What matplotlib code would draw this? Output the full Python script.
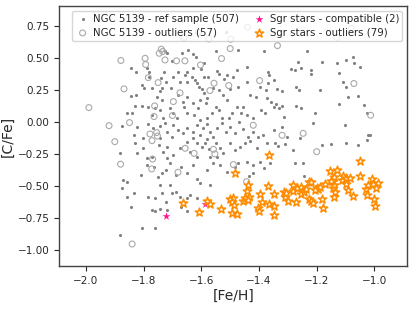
import matplotlib
matplotlib.use('Agg')
import matplotlib.pyplot as plt
import seaborn as sns
import numpy as np

# NGC 5139 reference sample
ref_feh = [
    -1.516, -1.725, -1.72, -1.667, -1.645, -1.628, -1.548, -1.472, -1.382, -1.233,
    -1.18, -1.131, -1.097, -1.075, -1.072, -1.264, -1.703, -1.618, -1.591,
    -1.845, -1.827, -1.79, -1.783, -1.728, -1.651, -1.601, -1.547, -1.538, -1.478,
    -1.443, -1.37, -1.366, -1.29, -1.276, -1.253, -1.221, -1.221, -1.123, -1.05,
    -1.697, -1.657, -1.634, -1.622, -1.591, -1.576, -1.522, -1.512, -1.489, -1.628,
    -1.68, -1.349, -1.783, -1.741,
    -1.844, -1.827, -1.807, -1.8, -1.772, -1.744, -1.737, -1.724, -1.705, -1.674,
    -1.648, -1.616, -1.608, -1.599, -1.591, -1.558, -1.54, -1.524, -1.501, -1.472,
    -1.443, -1.397, -1.376, -1.374, -1.37, -1.339, -1.321, -1.273, -1.262, -1.189,
    -1.11, -1.097, -1.058, -1.091, -1.651, -1.68, -1.582, -1.432, -1.409, -1.755,
    -1.857, -1.841, -1.829, -1.806, -1.784, -1.762, -1.744, -1.736, -1.709, -1.697,
    -1.665, -1.66, -1.651, -1.628, -1.61, -1.603, -1.585, -1.564, -1.549, -1.538,
    -1.512, -1.493, -1.476, -1.455, -1.441, -1.422, -1.394, -1.378, -1.359, -1.349,
    -1.332, -1.321, -1.341, -1.273, -1.253, -1.205, -1.121, -1.035, -1.027, -1.772,
    -1.732, -1.686, -1.626, -1.605, -1.579, -1.53, -1.503, -1.461, -1.315,
    -1.876, -1.832, -1.824, -1.784, -1.766, -1.744, -1.726, -1.72, -1.697, -1.68,
    -1.663, -1.648, -1.63, -1.614, -1.605, -1.593, -1.582, -1.57, -1.558, -1.547,
    -1.53, -1.515, -1.499, -1.483, -1.469, -1.455, -1.437, -1.42, -1.403, -1.385,
    -1.349, -1.321, -1.302, -1.212, -1.103, -1.022, -1.027, -1.628, -1.582, -1.703,
    -1.744, -1.801,
    -1.882, -1.83, -1.824, -1.801, -1.772, -1.746, -1.732, -1.718, -1.697, -1.674,
    -1.651, -1.64, -1.614, -1.599, -1.588, -1.573, -1.549, -1.534, -1.524, -1.501,
    -1.483, -1.466, -1.449, -1.432, -1.406, -1.374, -1.345, -1.334, -1.311, -1.282,
    -1.258, -1.18, -1.152, -1.097, -1.056, -1.547, -1.57, -1.616, -1.72, -1.79,
    -1.873, -1.856, -1.81, -1.79, -1.764, -1.749, -1.737, -1.723, -1.709, -1.689,
    -1.669, -1.651, -1.63, -1.616, -1.582, -1.558, -1.534, -1.512, -1.483, -1.472,
    -1.443, -1.42, -1.397, -1.383, -1.362, -1.276, -1.247, -1.245, -1.434, -1.42,
    -1.876, -1.859, -1.833, -1.845, -1.784, -1.762, -1.744, -1.735, -1.723, -1.709,
    -1.702, -1.689, -1.674, -1.651, -1.64, -1.616, -1.605, -1.57, -1.772, -1.76,
    -1.744, -1.72, -1.67, -1.651, -1.807, -1.76, -1.882, -1.016,
]
ref_cfe = [
    0.706, 0.557, 0.536, 0.542, 0.562, 0.531, 0.55, 0.562, 0.557, 0.55,
    0.471, 0.464, 0.484, 0.51, 0.464, 0.471, 0.477, 0.51, 0.458,
    0.419, 0.393, 0.419, 0.393, 0.393, 0.393, 0.411, 0.401, 0.375, 0.406,
    0.432, 0.393, 0.367, 0.414, 0.406, 0.419, 0.406, 0.375, 0.38, 0.432,
    0.349, 0.367, 0.349, 0.328, 0.349, 0.354, 0.333, 0.365, 0.349, 0.419,
    0.393, 0.328, 0.354, 0.341,
    0.206, 0.211, 0.289, 0.263, 0.263, 0.245, 0.263, 0.315, 0.268, 0.315,
    0.315, 0.302, 0.271, 0.258, 0.224, 0.268, 0.25, 0.211, 0.258, 0.276,
    0.315, 0.276, 0.25, 0.185, 0.307, 0.255, 0.245, 0.276, 0.25, 0.25,
    0.315, 0.276, 0.201, 0.198, 0.198, 0.211, 0.185, 0.211, 0.198, 0.198,
    0.073, 0.073, 0.125, 0.125, 0.12, 0.107, 0.094, 0.172, 0.107, 0.068,
    0.159, 0.12, 0.068, 0.146, 0.107, 0.172, 0.146, 0.068, 0.12, 0.094,
    0.172, 0.068, 0.12, 0.12, 0.055, 0.029, 0.094, 0.068, 0.159, 0.12,
    0.107, 0.125, 0.141, 0.125, 0.107, 0.068, 0.138, 0.133, 0.068, 0.055,
    0.029, 0.029, 0.055, 0.016, 0.029, 0.029, 0.029, 0.068, 0.042,
    -0.031, -0.102, -0.036, -0.016, -0.049, -0.031, -0.01, -0.076, -0.023, -0.063,
    -0.089, -0.044, -0.076, -0.023, -0.102, -0.049, -0.016, -0.076, -0.115, -0.044,
    -0.01, -0.076, -0.036, -0.083, 0.003, -0.057, -0.115, -0.076, -0.12, -0.102,
    -0.063, -0.036, -0.115, -0.01, -0.023, -0.102, -0.141, -0.128, -0.135, -0.115,
    -0.128, -0.128,
    -0.245, -0.167, -0.24, -0.206, -0.271, -0.18, -0.232, -0.193, -0.258, -0.206,
    -0.154, -0.232, -0.167, -0.193, -0.161, -0.214, -0.167, -0.201, -0.24, -0.167,
    -0.219, -0.193, -0.167, -0.146, -0.206, -0.167, -0.161, -0.188, -0.172, -0.219,
    -0.128, -0.18, -0.174, -0.167, -0.18, -0.271, -0.271, -0.271, -0.284, -0.284,
    -0.453, -0.466, -0.414, -0.336, -0.349, -0.427, -0.401, -0.375, -0.323, -0.414,
    -0.349, -0.401, -0.336, -0.448, -0.375, -0.323, -0.336, -0.388, -0.349, -0.318,
    -0.31, -0.336, -0.31, -0.362, -0.323, -0.323, -0.323, -0.419, -0.422, -0.401,
    -0.518, -0.583, -0.557, -0.661, -0.583, -0.596, -0.492, -0.557, -0.622, -0.492,
    -0.557, -0.544, -0.583, -0.596, -0.57, -0.596, -0.474, -0.492, -0.688, -0.693,
    -0.682, -0.688, -0.661, -0.695, -0.831, -0.826, -0.883, -0.102,
]

# NGC 5139 outliers
out_feh = [
    -1.99, -1.92, -1.90, -1.88, -1.879, -1.868, -1.849, -1.84, -1.795, -1.793,
    -1.784, -1.778, -1.771, -1.772, -1.764, -1.762, -1.755, -1.752, -1.75, -1.746,
    -1.739, -1.734, -1.726, -1.769, -1.70, -1.697, -1.686, -1.674, -1.681, -1.657,
    -1.656, -1.625, -1.603, -1.574, -1.57, -1.556, -1.558, -1.553, -1.53, -1.505,
    -1.50, -1.489, -1.498, -1.443, -1.42, -1.398, -1.336, -1.32, -1.247, -1.20,
    -1.071, -1.013, -1.66, -1.61, -1.13, -1.08, -1.44,
]
out_cfe = [
    0.112, -0.029, -0.154, -0.33, 0.48, 0.258, -0.005, -0.953, 0.497, 0.448,
    0.346, -0.094, -0.146, -0.367, 0.042, 0.125, -0.083, -0.11, 0.307, 0.536,
    0.568, 0.55, 0.484, -0.29, 0.05, 0.159, 0.477, 0.227, -0.393, 0.477,
    -0.206, -0.245, 0.445, 0.648, 0.245, 0.302, -0.214, -0.25, 0.495, 0.284,
    0.573, -0.333, 0.646, -0.466, -0.026, 0.323, 0.596, -0.104, -0.089, -0.232,
    0.30, 0.052, 0.66, 0.70, 0.66, 0.73, 0.74,
]

# Sgr stars compatible with NGC 5139
sgr_ok_feh = [-1.724, -1.589]
sgr_ok_cfe = [-0.732, -0.638]

# Sgr stars outliers
sgr_out_feh = [
    -1.665, -1.607, -1.582, -1.57, -1.532, -1.501, -1.489, -1.495, -1.493, -1.478,
    -1.486, -1.482, -1.457, -1.449, -1.443, -1.437, -1.434, -1.438, -1.405, -1.399,
    -1.396, -1.389, -1.37, -1.367, -1.364, -1.348, -1.347, -1.347, -1.313, -1.309,
    -1.306, -1.30, -1.282, -1.283, -1.272, -1.27, -1.255, -1.253, -1.245, -1.237,
    -1.228, -1.228, -1.221, -1.212, -1.22, -1.198, -1.195, -1.189, -1.18, -1.177,
    -1.171, -1.155, -1.143, -1.143, -1.141, -1.137, -1.129, -1.14, -1.139, -1.114,
    -1.109, -1.10, -1.097, -1.09, -1.083, -1.073, -1.051, -1.049, -1.03, -1.024,
    -1.022, -1.007, -1.004, -1.0, -0.999, -0.989, -0.996, -1.205, -1.152,
]
sgr_out_cfe = [
    -0.63, -0.706, -0.617, -0.643, -0.68, -0.604, -0.591, -0.622, -0.714, -0.719,
    -0.646, -0.401, -0.62, -0.596, -0.536, -0.495, -0.583, -0.609, -0.674, -0.695,
    -0.562, -0.625, -0.50, -0.641, -0.258, -0.565, -0.654, -0.729, -0.549, -0.583,
    -0.552, -0.62, -0.492, -0.542, -0.622, -0.513, -0.51, -0.565, -0.544, -0.523,
    -0.466, -0.60, -0.62, -0.635, -0.466, -0.518, -0.523, -0.505, -0.604, -0.672,
    -0.482, -0.383, -0.464, -0.513, -0.589, -0.544, -0.375, -0.427, -0.492, -0.453,
    -0.419, -0.435, -0.487, -0.529, -0.438, -0.581, -0.302, -0.424, -0.526, -0.568,
    -0.492, -0.448, -0.484, -0.599, -0.659, -0.477, -0.518, -0.53, -0.46,
]


def main():
    sns.set_style('ticks')
    plt.rcParams['font.family'] = ['DejaVu Sans']
    fig, ax = plt.subplots(figsize=(4.19, 3.11), dpi=100)
    fig.subplots_adjust(left=0.1415, right=0.972, bottom=0.1447, top=0.981)

    ax.scatter(ref_feh, ref_cfe, s=5, color='gray', linewidths=0,
               label='NGC 5139 - ref sample (507)')
    ax.scatter(out_feh, out_cfe, s=18, facecolors='none', edgecolors='darkgray',
               linewidths=0.8, label='NGC 5139 - outliers (57)')
    ax.scatter(sgr_ok_feh, sgr_ok_cfe, s=35, marker='*', color='deeppink',
               linewidths=0, label='Sgr stars - compatible (2)')
    ax.scatter(sgr_out_feh, sgr_out_cfe, s=40, marker='*', facecolors='white',
               edgecolors='darkorange', linewidths=1.1,
               label='Sgr stars - outliers (79)')

    ax.set_xlim(-2.0925, -0.886)
    ax.set_ylim(-1.125, 0.906)
    ax.set_xticks(np.arange(-2.0, -0.99, 0.2))
    ax.set_yticks(np.arange(-1.0, 0.76, 0.25))
    ax.tick_params(labelsize=7.5, length=3.5, width=0.8)
    for s in ax.spines.values():
        s.set_color('#444444')
        s.set_linewidth(1.0)
    ax.set_xlabel('[Fe/H]', fontsize=10, labelpad=2)
    ax.set_ylabel('[C/Fe]', fontsize=10, labelpad=2)
    ax.legend(loc='upper right', ncol=2, fontsize=7.3, handletextpad=0.3,
              columnspacing=1.2, borderpad=0.3, labelspacing=0.35,
              handlelength=1.5, framealpha=0.8)
    fig.savefig('out.png', dpi=100)


if __name__ == '__main__':
    main()
